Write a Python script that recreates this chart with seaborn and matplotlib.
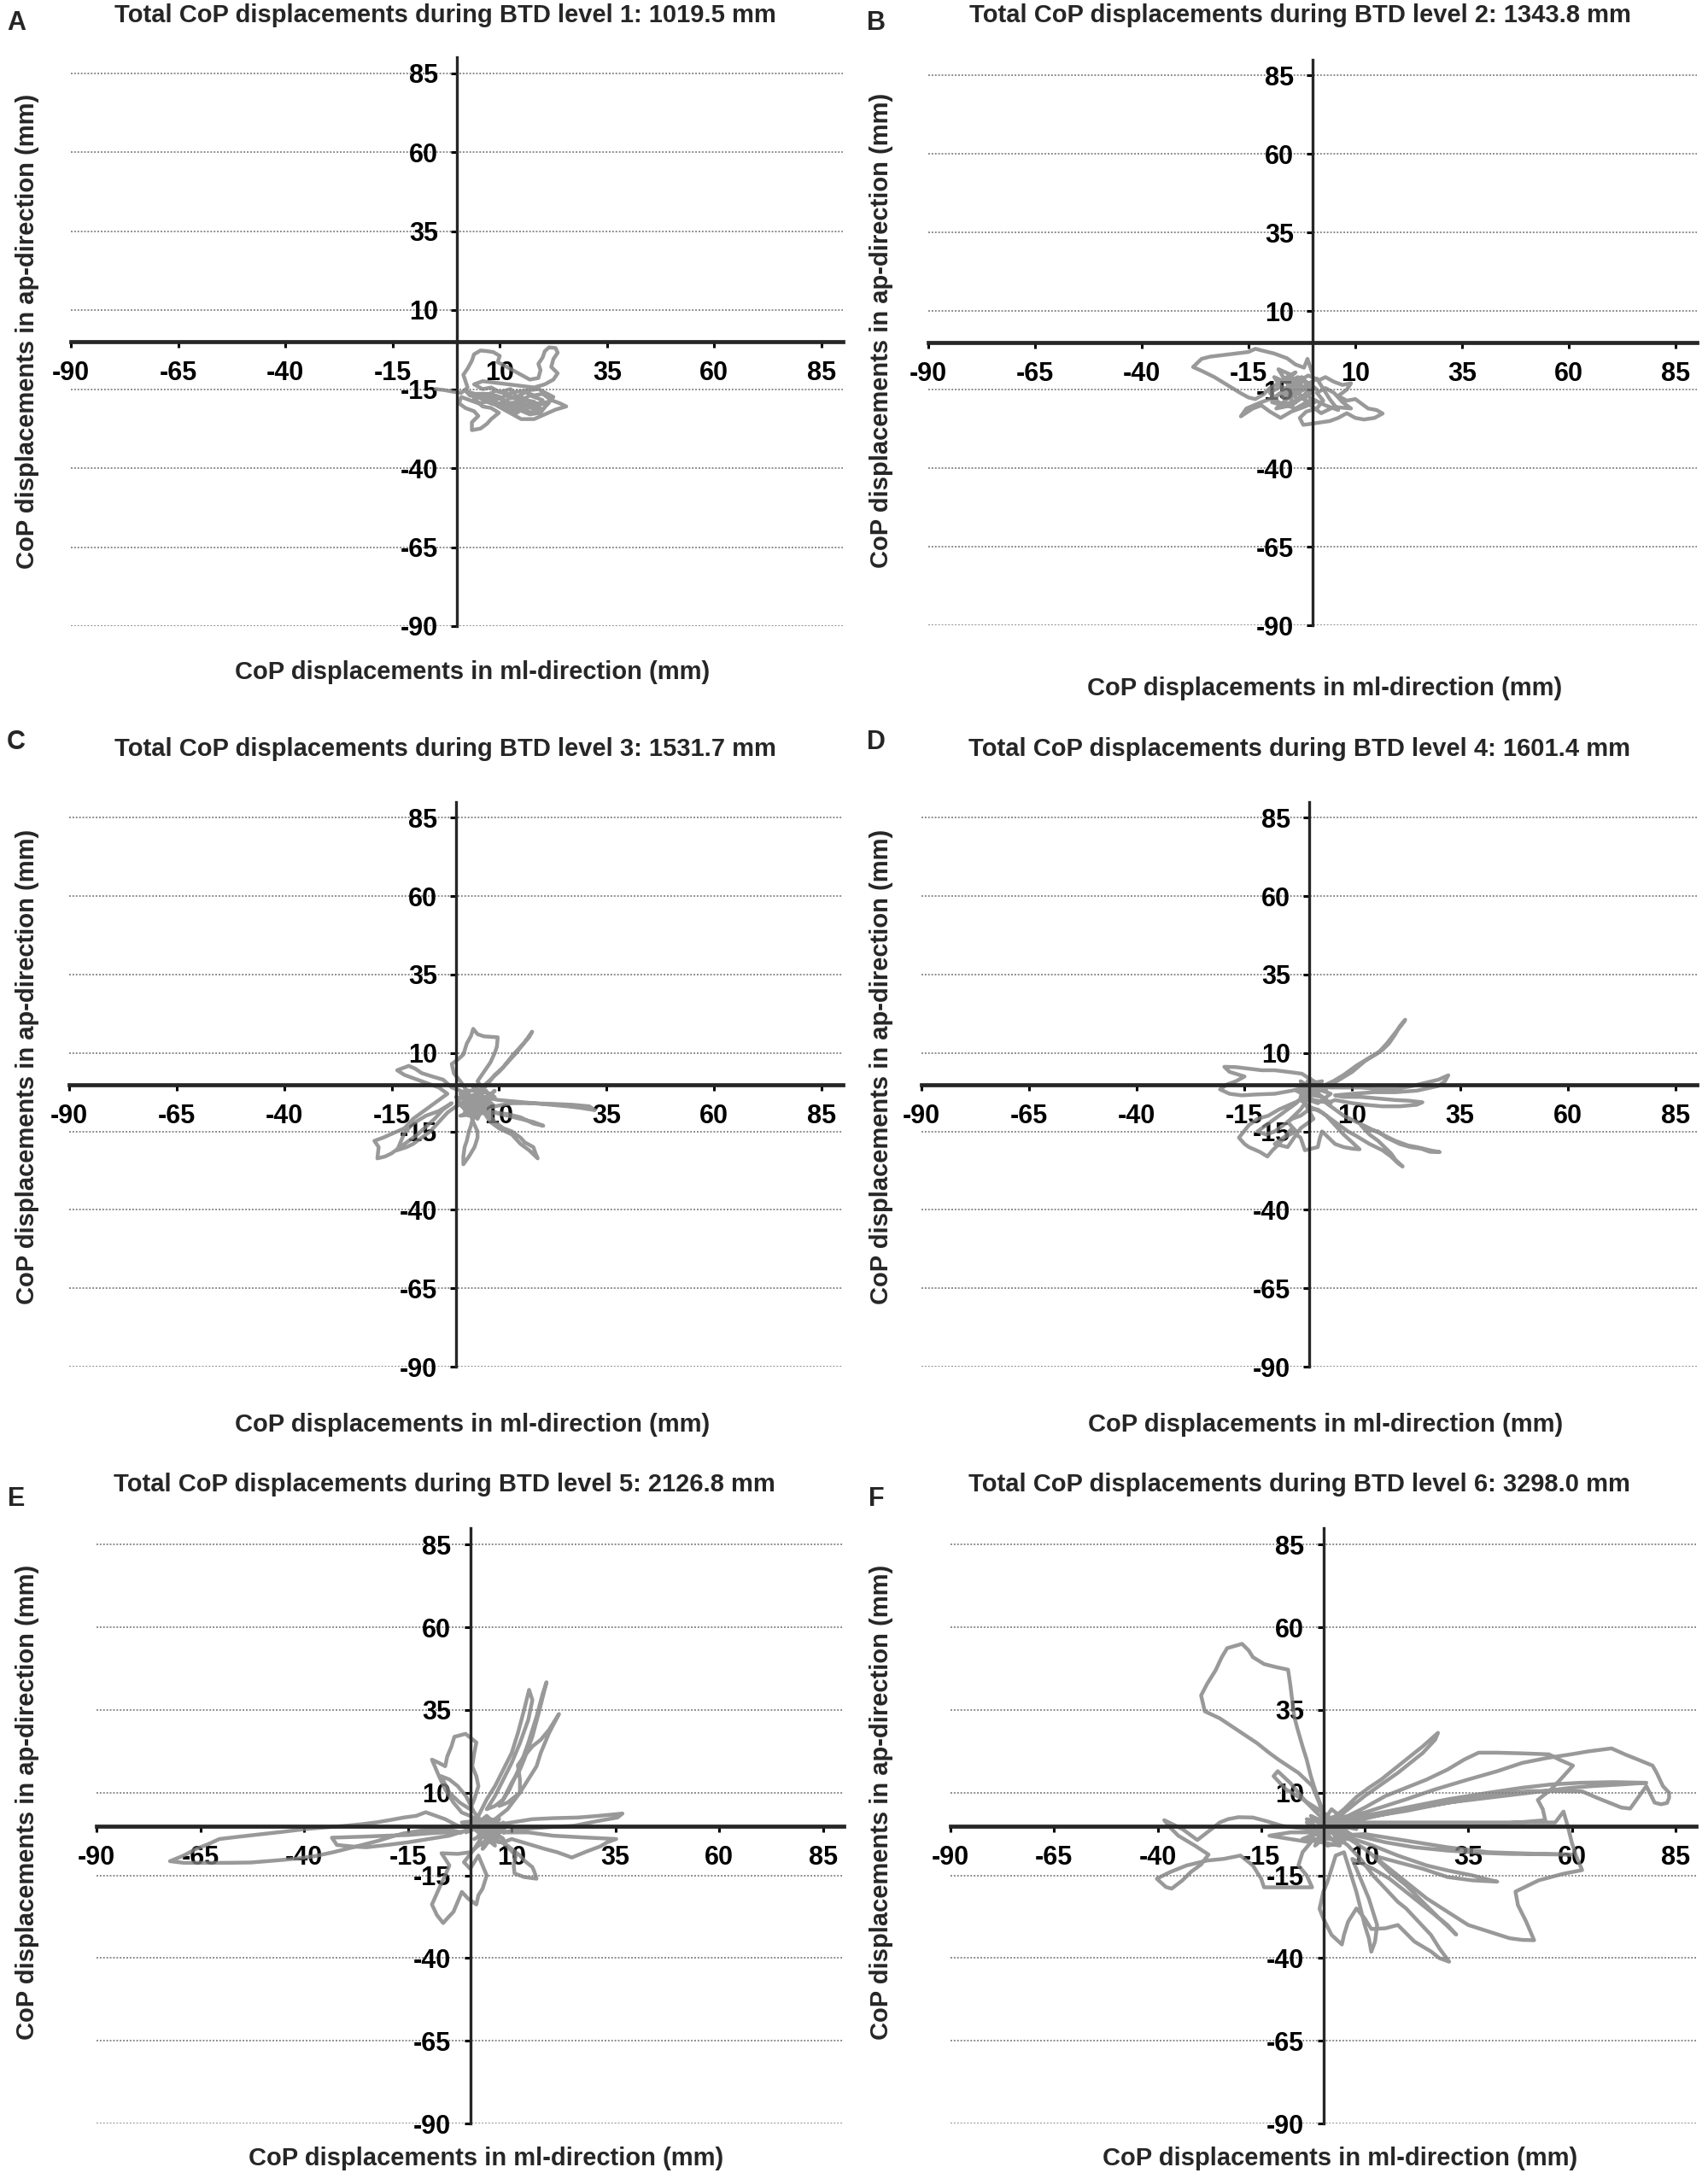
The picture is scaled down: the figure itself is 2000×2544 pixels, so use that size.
import matplotlib
matplotlib.use("Agg")
import matplotlib.pyplot as plt
import seaborn as sns

# CoP paths (ml, ap) in mm
path_a = [(-5,-15),(-3,-15.3),(-1,-15.8),(1,-16.2),(2.5,-14.5),(2,-12.5),(1.5,-10.5),(2.5,-8.5),(3.5,-6),(4,-4),(5.5,-2.8),(7,-3),(8.5,-3.3),(10,-4.5),(9.5,-6.5),(11,-7.5),(13,-9),(15,-10.5),(17,-12),(19,-11.5),(19.5,-9),(19,-7),(20,-5),(20.5,-3),(21.5,-1.8),(23,-2),(23.5,-3.5),(22.5,-5.5),(22,-8),(23.5,-10),(22.5,-12),(20.5,-13.5),(18,-14.5),(15,-14),(12,-13.5),(9,-13),(6,-12.5),(4,-13.5),(6,-15),(8,-14.5),(10,-16),(12.5,-15),(14,-17.5),(16,-16),(18,-17),(20,-16.5),(22,-18.5),(24,-19.5),(25.5,-20.5),(23,-21.5),(20.5,-23),(18,-24.5),(15,-24.5),(13,-23),(11,-21.5),(9,-20),(7,-19),(5,-19.5),(3,-18.5),(1,-17.5),(0.5,-19.5),(2,-21),(4,-22),(5,-23.5),(3.5,-25.5),(3.5,-28),(5.5,-27.5),(7,-26),(8,-24.5),(9.8,-22.5),(8,-21),(6,-20.5),(4,-18),(6,-16.5),(8.5,-17.5),(11,-18.5),(13,-20),(15.5,-21.5),(17.5,-22.5),(19.5,-21),(18,-19),(16,-18.5),(13.5,-18),(11.5,-16.5),(9,-15.5),(7,-17),(9.5,-19.5),(12,-21),(14,-22.5),(16.5,-20),(19,-19.5),(21,-20),(22.5,-17.5),(19,-15),(16,-15.5),(13,-16),(10,-18),(7,-18.5),(4,-16.5),(2,-15.5),(3,-17),(6,-18),(9,-17),(12,-19.5),(15,-19),(18,-21.5),(20,-18.5),(17,-17),(14,-19.5),(16,-21),(18.5,-20.5),(15,-17.5),(12,-18),(10,-20.5),(13.5,-21),(17,-23),(19.5,-22.5),(21.5,-19),(17.5,-20),(14.5,-20.5),(11,-19.5),(8,-19.5),(5,-17.5),(3,-16.5),(7,-16.5),(10,-17.5)]

path_b = [(0,-10),(-1.2,-5.2),(-2,-8),(-4,-7),(-6,-5),(-9,-3.5),(-12,-2.5),(-13.4,-2),(-15,-3),(-18,-3.5),(-21,-4),(-24,-4.5),(-26,-5.2),(-28,-7.8),(-26,-9),(-23,-11),(-20,-13.5),(-17,-16),(-15,-17.5),(-13.4,-18),(-11.5,-16.5),(-10,-14.5),(-8,-13),(-6,-11),(-4,-9.5),(-6.5,-12.5),(-9,-11),(-7,-15),(-4,-13),(-2,-15),(-5,-17),(-8,-16.5),(-9.5,-19),(-7,-20),(-4,-18.5),(-1,-17),(0.5,-19),(-2,-20.5),(-5,-22),(-7.5,-24),(-10,-22),(-12,-20),(-14,-21),(-16.8,-23.5),(-15.5,-21),(-12,-19),(-9,-17.5),(-6,-14.5),(-3,-12),(-1,-10.5),(1.5,-12),(3,-11),(5,-12.5),(7,-13.5),(9,-13),(8,-15),(6,-17),(8,-18.5),(10,-18),(11.5,-19.5),(13,-21),(15,-21.5),(16.4,-22.6),(14.5,-24),(12,-24.5),(10,-24),(8,-22.5),(6,-24),(4,-25),(1.5,-25.5),(-1,-26),(-2.2,-26.2),(-3,-24),(-1.5,-22),(1,-21),(2.5,-18.5),(1,-16),(3,-14.5),(5,-16),(7,-19),(9,-21),(5,-20.5),(2,-22.5),(-1,-19.5),(-3.5,-16),(-6,-18),(-8.5,-21),(-5,-20),(-2.5,-17.5),(0,-14),(-3,-14.5),(-5.5,-10),(-8,-8.5),(-6,-13),(-3.5,-11),(-1,-13),(1,-15),(-2,-12),(-4.5,-15.5),(-7.5,-14),(-10,-16),(-8,-19),(-4,-21),(0,-18),(3,-20),(6,-21.5),(4,-18),(1,-11.5),(-2,-14),(-4,-16.5),(-6.5,-16),(-3,-18),(-1,-15.5),(-3.5,-13),(-6,-15.5),(-4.5,-19.5),(-2,-17),(0,-16),(-2.5,-11),(-5,-12),(-7,-17.5),(-5,-14),(-1.5,-18.5)]

path_c = [(3,-3),(2,-1),(1,1),(-0.5,3.5),(-1,6.5),(0.5,8),(1.7,9.5),(2.5,13),(3.5,15.5),(4,17.7),(5,16),(6.5,15.3),(9.7,15),(9.5,12),(9,10),(8,7),(6.5,4),(5,1),(6,-1),(8,1.5),(10,4),(12,7),(14,10),(16,13.5),(17.7,16.8),(17,15),(15,12),(13,9),(11,5.5),(9,3),(7,-0.5),(5,-3),(3,-4),(1,-2),(-1,-1),(-3,1.5),(-5.5,2.5),(-8,3.6),(-9.5,5),(-11,5.9),(-13.7,4.5),(-12,3),(-10,2),(-7,0.5),(-4,-1),(-2,-3),(-4,-5),(-6,-7),(-8,-9),(-10,-11),(-12,-14),(-14.5,-15.5),(-17,-17),(-19,-18),(-18,-20),(-18.3,-23.6),(-16.5,-23),(-15,-22),(-13,-20),(-12,-19),(-10.5,-17.5),(-9,-16),(-7,-13.5),(-5,-11),(-3,-8),(-1,-6),(-4,-8.5),(-7,-10),(-10,-12.5),(-12,-15.5),(-13.7,-21),(-11.5,-20),(-10,-19),(-8,-17),(-6,-15),(-4,-12),(-2,-9),(0,-7),(3,-5),(6,-4),(10,-5),(14,-5.5),(18,-6),(22,-6.5),(26,-7),(29,-7.5),(32.3,-8.2),(31,-7),(27,-6.5),(22,-6.2),(17,-6),(13,-6),(9,-7),(6,-8),(9,-9),(12,-10),(15,-11),(18,-12),(20.3,-13.2),(18,-12.5),(15,-10.5),(12,-9.5),(9,-9),(7,-10),(8,-12),(10,-14),(13,-16),(14,-17.5),(15,-19),(16.5,-20.5),(17,-21),(19,-23.6),(18.5,-22),(18,-20),(16,-18.5),(15,-17),(13,-15),(11,-14),(9,-12),(8,-10),(6,-9),(4,-10),(3.5,-13),(3,-15),(2.5,-18),(2,-20),(1.7,-23),(1.7,-25.5),(3,-23),(4.3,-20),(5,-17),(5,-15),(4,-12),(3,-8),(1,-3),(6,-6),(2,-9),(8,-3),(4,-1),(9,-7),(0.5,-6),(5,-11),(7,-5),(2,-5),(6,-2),(9,-4),(3,-7),(7,-9),(1,-10),(5,-8),(8,-6),(4,-4),(7,-2),(2,-2),(6,-7),(9,-2),(3,-10),(0,-4),(5,-6)]

path_d = [(2,-1),(4,0),(5.7,1.1),(8,3),(11,6),(14,8.5),(17,11),(18.5,13),(20,16),(21,18.5),(22.3,20.6),(21.5,19),(20,16.5),(18,13),(16,10),(13,7.5),(10,4),(7,1.5),(4,-1),(1,1),(-1.7,3.4),(-5,4),(-8,4.5),(-11,4.5),(-14,5),(-17,5.5),(-19.7,5.6),(-18.5,4),(-15,2.5),(-17,1),(-19,0),(-20.7,-1.6),(-18.5,-3),(-15.7,-3.5),(-12,-3.2),(-8,-3),(-4,-2),(-1,-1),(2,-0.5),(5,-1),(9,-1),(12,-1),(16,-1.5),(20,-1.5),(24,-0.5),(27,0.5),(30,1.5),(32.3,2.9),(31.5,1),(30,-0.5),(25,-2),(20,-2.5),(15,-2.5),(10,-3),(6,-3.5),(8,-4),(12,-4),(16,-4.5),(20,-5),(23,-5.2),(26.3,-5.7),(25,-6.5),(21,-7),(17,-7),(13,-6.5),(10,-6),(6,-5),(4,-6),(6,-8),(8,-10),(11,-12),(14,-14),(17,-16),(20,-18),(23,-19.5),(25,-20),(28,-21),(30.3,-21.6),(28,-21.5),(26,-20.5),(23.5,-20),(21,-19),(18,-17),(16,-15),(14,-14.5),(12,-13),(14,-16),(16,-18),(17.5,-20),(19,-22),(20,-24),(21.7,-26.2),(20.5,-25),(19,-23),(17,-21),(14,-19),(11,-16.5),(9,-15),(6,-12),(3,-9),(0,-7),(-2,-5),(-4.5,-6.5),(-7,-8),(-9.5,-10),(-12,-11),(-14,-13),(-16.3,-17),(-15,-19),(-14,-20),(-11.5,-21.5),(-9.7,-23),(-8.5,-21),(-7,-19),(-5.5,-16.5),(-4,-14),(-3,-16),(-2,-17),(-1.5,-19),(-1,-21),(0.5,-20.5),(2,-20),(2.5,-17),(3,-15),(4.5,-17),(6,-19),(8,-20),(10,-20.5),(11.7,-20.7),(10,-18.5),(8,-16),(6,-13),(4,-10),(2,-8),(0,-8),(-2,-10),(-4,-11),(-6,-13),(-8,-15),(-10,-16),(-12,-15),(-9,-12),(-6,-9),(-3,-6),(-1,-3),(3,-4),(-2,1),(5,-6),(1,-5),(-3,-2),(4,-2),(0,2),(-2,-4),(2,-6),(5,-3),(-1,0),(3,1),(1,-2),(-2,-8),(-5,-12),(-3,-15),(-6,-17),(-8,-19),(-5,-20),(-2,-14),(1,-11),(-1,-6)]

path_e = [(2,-1),(-3,0),(-6,2),(-10.7,4.1),(-13,3),(-16,2.5),(-19,1.8),(-22.2,1.1),(-26,0.5),(-30,0),(-35,-0.5),(-39.8,-1),(-45,-1.8),(-50,-2.5),(-55,-3.2),(-60.4,-4),(-63,-5.5),(-66,-7),(-69,-9),(-72.3,-10.7),(-69,-11.2),(-65,-11.2),(-59,-11.2),(-52.8,-11.1),(-49,-10.7),(-45,-10.3),(-41,-9.8),(-37.5,-9.2),(-33,-8),(-29.8,-7),(-26,-5.8),(-22,-4.5),(-19,-3.3),(-16,-2.3),(-12,-1.5),(-8,-1),(-4,-1.5),(-2,-2),(-6,-2),(-10,-2.3),(-15,-2.8),(-20,-3),(-26,-3.3),(-33.3,-3.6),(-32.1,-5.8),(-28,-6.3),(-25,-6.5),(-20,-5.8),(-15,-5),(-10,-4),(-5,-3),(0,-1),(2,3),(4,8),(6,12),(8,17),(10,22),(11.5,28),(13,35),(14.2,41.1),(15,38),(14,32),(12,25),(10,19),(8,14),(6,9),(4,5),(6,6),(8,8),(10,13),(12,17),(13,20),(15,27),(16.5,34),(18.4,43.4),(17.5,40),(16,33),(14,25),(12,18),(9.5,11),(7,6),(9,7),(12,10),(14,14),(16,18),(17,22),(19,28),(21.4,33.8),(20.5,32),(19,29),(17,26),(15,24),(13,21),(11.5,18.3),(12,14),(12,10),(9,5),(6,2),(3,1),(0,3),(-2,4),(-4,7),(-6,11),(-7.5,15),(-9.2,20),(-7.5,19),(-6,18),(-5.5,21),(-4.5,24),(-3.8,26.9),(-1.1,27.8),(1.5,25.2),(1,22),(0.5,18),(1.5,15),(2,12),(1,8),(0,5),(-2.5,7),(-5,10),(-7,15),(-5,14),(-3,12),(-1,9),(1,4),(3,1),(5,0),(10,1),(15,2),(20,2.3),(26,2.5),(31,3),(36.7,3.7),(35.5,2.5),(31,1.5),(25,0),(18,-0.5),(12,-1),(8,-2),(14,-2),(20,-3),(27,-3.5),(35.2,-4),(33,-5),(31.4,-6.2),(28,-7.8),(24.5,-9.6),(21,-8),(18,-7),(14,-5.5),(10,-4),(8,-5),(9.5,-7),(11,-9),(10.5,-12),(10.7,-14.4),(13,-15.5),(16,-16),(15.5,-14),(15,-12.5),(13,-10.5),(12,-9),(9,-6),(6,-4),(3,-5),(1,-7),(0,-8),(-3,-8.5),(-6.9,-8.3),(-6,-10),(-5,-12),(-6,-15),(-7.5,-19),(-9.2,-23.8),(-8,-27),(-6.5,-29.4),(-5.5,-28),(-4,-26),(-3,-23),(-2,-20),(-0.5,-22),(1.5,-23.8),(2,-21),(3,-19),(3.5,-17),(4,-15),(3,-12),(2,-9),(0,-13),(-1.5,-11),(1,-7),(3,-3),(6,-5),(1,1),(8,-2),(4,3),(-1,-2),(7,2),(3,-6),(9,0),(5,-3),(0,0),(6,-6),(2,2),(8,-4),(4,-1),(7,-5),(2,-3),(5,2),(-2,1),(6,-2),(3,-7),(8,1),(1,-4)]

path_f = [(0,3),(-1,7),(-2.7,12.1),(-6,16),(-10.7,19.9),(-13,22),(-16,25),(-19,27.5),(-22,30),(-25,32.5),(-28.6,34.6),(-29.5,39.4),(-28,43),(-26,47),(-24.5,51),(-23.2,53.7),(-19.6,55),(-18,53),(-17,51),(-14.3,48.9),(-11.5,48),(-8.5,47.2),(-8,43),(-7.5,38),(-7,33),(-6.25,29.4),(-5,24),(-4,20),(-3,15),(-2,11),(0,4),(-5,8),(-9,11),(-12,15),(-11,16.5),(-8,13),(-4,7),(0,2),(2,2),(5,5),(8,8.7),(11,11.5),(14,14),(17,17),(20,20),(24,24),(27.7,28.1),(27,26),(24,22),(21,19),(18,16),(14,12.5),(10,9),(6,5),(3,2),(6,3),(10,5.5),(15,9),(20,11.5),(25,14),(30,17),(34,20),(37.5,22.1),(42,22.1),(48,21.9),(54.5,21.6),(57,20),(60.3,18.2),(58,15),(55,11),(51.8,7.8),(53,5),(53.6,1.7),(47,1),(40,0.5),(30,0.4),(20,0.3),(10,0.2),(5,0),(4,2),(10,4),(15,6),(20,8),(27,11),(35,14),(42,16.5),(48,19),(54,20.5),(59.8,21.6),(64,22.5),(69.6,23.4),(73,21.5),(76,20),(79.5,18.2),(80.5,16),(81.3,13.9),(82,12),(83.5,10),(83.5,8.5),(83,6.9),(81.5,6.5),(80,7),(79,9.5),(78,12),(76,8.5),(74.1,5.2),(72,5.5),(70,6.5),(66,8.5),(62.5,10.4),(56,10.5),(50,10.5),(42,9.5),(35,8),(28,6.5),(20,5),(13,3),(6,1),(5,1.5),(12,3.5),(20,5.5),(30,8),(40,10),(48,11.5),(55,12.5),(62,13),(70,13.2),(78,13),(72,12.5),(65,12),(60,11.5),(50,10),(40,8.5),(30,7),(20,4.5),(10,2.5),(5,1),(56,1),(58,4.3),(59,0),(60,-5),(61,-9),(62.5,-13.4),(58,-14.5),(52,-16.5),(46.4,-19.9),(47,-24),(49,-29),(50.9,-34.6),(48,-34.5),(45,-34),(40,-32),(35,-30),(30,-26),(25,-22),(20,-17),(15,-12),(10,-7),(5,-3),(4,-2),(10,-3.5),(15,-5),(22,-6.5),(30,-7.5),(38.4,-8.2),(45,-8.5),(52,-8.6),(59.8,-8.7),(52,-8.5),(40,-8),(30,-6.5),(20,-4.5),(10,-2.5),(3,-3),(6,-6),(9,-10),(12,-15),(15,-19),(18,-23),(20,-25),(23,-29),(26,-33),(28,-37),(30.4,-41.1),(28,-40),(26,-38),(22,-35),(18,-30),(15,-31),(11.6,-31.2),(10,-28),(8,-25),(6,-29),(5,-33),(4.5,-35.9),(2,-33),(0,-28),(-0.9,-25.1),(0,-20),(1,-17),(2,-13),(3,-9),(5,-8),(6,-12),(7,-16),(8,-20),(9,-25),(10,-30),(11,-34),(11.6,-38.1),(12.5,-35),(13,-30),(11,-22),(9,-16),(7,-10),(12,-13),(16,-16),(20,-20),(24,-24),(28,-28),(32.1,-32.9),(30,-30),(28,-28),(24,-23),(20,-18),(16,-14),(12,-9),(18,-11),(24,-13),(30,-15.5),(36,-16.5),(42,-16.9),(39,-16),(36,-15),(30,-13.5),(25,-12),(18,-9),(12,-6),(5,-3),(0,-1),(-3,-1),(-7,-0.5),(-10,0),(-14,1.5),(-17,2.5),(-20.5,2.6),(-23,2),(-25,1),(-27,-1),(-30.4,-4.3),(-34,-1),(-38.4,1.7),(-37,-0.5),(-35,-3),(-31,-6),(-27.7,-8.7),(-28.5,-10),(-29.5,-11.7),(-32,-14),(-34,-16.5),(-36.6,-19),(-38,-18.5),(-40.2,-16),(-37,-14),(-33,-12),(-28,-10.5),(-24,-10),(-20,-9),(-17,-12),(-15,-16),(-14.3,-18.6),(-10,-18.6),(-6,-18.6),(-2.7,-18.6),(-4,-15),(-6,-12),(-5,-8),(-3,-5),(-8,-4),(-13,-3),(-8,-2),(-3,-2),(2,-4),(-2,2),(5,-5),(1,-6),(-4,1),(4,3),(-1,-3),(6,1),(2,-2),(-3,3),(7,-3),(0,4),(4,-6),(-5,-4),(3,0),(-2,-6),(5,2),(1,1),(6,-4),(-3,-4),(2,5),(8,-1),(-4,2),(3,-5),(7,2),(-1,-1)]

paths = [path_a, path_b, path_c, path_d, path_e, path_f]
letters = ["A", "B", "C", "D", "E", "F"]
levels = [1, 2, 3, 4, 5, 6]
totals = [1019.5, 1343.8, 1531.7, 1601.4, 2126.8, 3298.0]
ticks = [-90, -65, -40, -15, 10, 35, 60, 85]

sns.set_theme(style="ticks")
plt.rcParams["font.family"] = ["Liberation Sans", "DejaVu Sans"]
plt.rcParams["font.weight"] = "bold"
plt.rcParams["axes.unicode_minus"] = False

W, H = 2000, 2544
fig = plt.figure(figsize=(20, 25.44), dpi=100)

# axes boxes in pixels: left, right, top, bottom
boxes = [(83, 987, 67, 733), (1087, 1987, 70, 732),
         (81, 987, 939, 1600), (1079, 1987, 939, 1600),
         (113, 988, 1789, 2486), (1113, 1986, 1789, 2486)]
# title / letter / label positions in pixels
title_xy = [(521, 18), (1522, 18), (521, 877), (1521, 877), (520, 1738), (1521, 1738)]
letter_xy = [(19, 27), (1026, 27), (19, 869), (1026, 869), (19, 1755), (1026, 1755)]
xlab_xy = [(553, 787), (1551, 806), (553, 1668), (1552, 1668), (569, 2527), (1569, 2527)]
ylab_xy = [(32, 388), (1032, 387), (32, 1249), (1032, 1249), (32, 2110), (1032, 2110)]

def fx(px):
    return px / W

def fy(py):
    return 1 - py / H

for i, path in enumerate(paths):
    l, r, t, b = boxes[i]
    ax = fig.add_axes([fx(l), fy(b), (r - l) / W, (b - t) / H])
    ml = [p[0] for p in path]
    ap = [p[1] for p in path]
    sns.lineplot(x=ml, y=ap, sort=False, estimator=None, ax=ax,
                 color="#808080", alpha=0.8, linewidth=3.2)
    ax.set_xlim(-90, 90)
    ax.set_ylim(-90, 90)
    ax.set_xticks(ticks)
    ax.set_yticks(ticks)
    ax.spines["left"].set_position(("data", 0))
    ax.spines["bottom"].set_position(("data", 0))
    ax.spines["top"].set_visible(False)
    ax.spines["right"].set_visible(False)
    ax.spines["left"].set_linewidth(2.4)
    ax.spines["bottom"].set_linewidth(3.4)
    ax.yaxis.grid(True, linestyle=(0, (1, 1)), color="#8c8c8c", linewidth=1.4)
    ax.xaxis.grid(False)
    ax.set_axisbelow(True)
    ax.tick_params(axis="both", direction="out", length=5, width=2.2,
                   pad=11, labelsize=22, colors="black")
    for lab in ax.get_xticklabels() + ax.get_yticklabels():
        lab.set_fontweight("bold")
    ax.set_xlabel("")
    ax.set_ylabel("")

    tx, ty = title_xy[i]
    fig.text(fx(tx), fy(ty), f"Total CoP displacements during BTD level {levels[i]}: {totals[i]:.1f} mm",
             ha="center", va="center", fontsize=21, fontweight="bold")
    lx, ly = letter_xy[i]
    fig.text(fx(lx), fy(ly), letters[i], ha="center", va="center", fontsize=22, fontweight="bold")
    xx, xy = xlab_xy[i]
    fig.text(fx(xx), fy(xy), "CoP displacements in ml-direction (mm)",
             ha="center", va="center", fontsize=21, fontweight="bold")
    yx, yy = ylab_xy[i]
    fig.text(fx(yx), fy(yy), "CoP displacements in ap-direction (mm)",
             ha="center", va="center", rotation=90, fontsize=21, fontweight="bold")

fig.savefig("out.png", dpi=100, facecolor="white")
